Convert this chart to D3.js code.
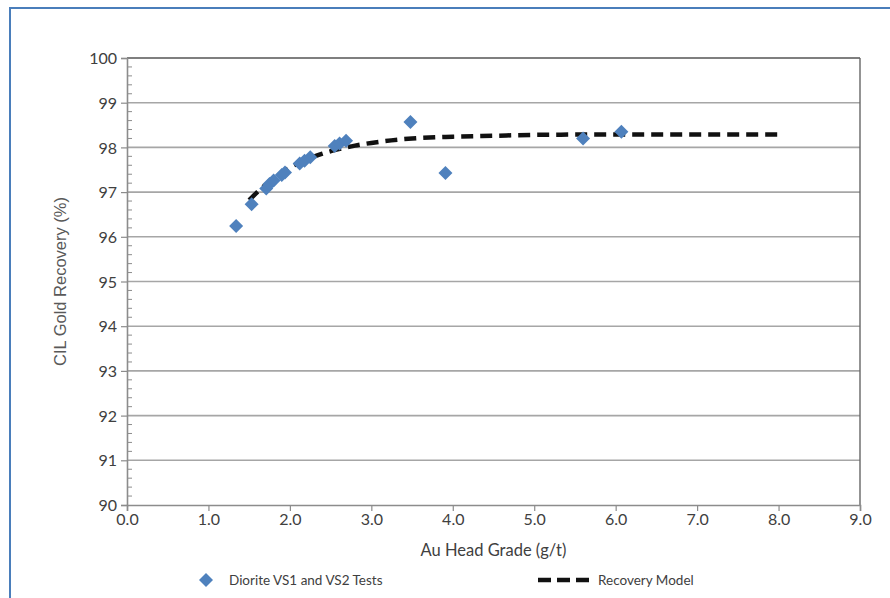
<!DOCTYPE html>
<html><head><meta charset="utf-8">
<script src="https://cdn.jsdelivr.net/npm/d3@7"></script>
<style>body{margin:0;background:#fff}svg{display:block}</style>
</head><body>
<script>
// Data
const testX = [1.34,1.53,1.71,1.75,1.80,1.90,1.94,2.12,2.18,2.25,2.55,2.61,2.69,3.48,3.91,5.60,6.07];
const testY = [96.24,96.73,97.08,97.18,97.26,97.38,97.44,97.64,97.70,97.78,98.03,98.09,98.15,98.57,97.43,98.20,98.35];
const modelX = [1.5,1.6,1.8,2.0,2.2,2.4,2.6,2.8,3.0,3.5,4.0,4.5,5.0,6.0,7.0,8.0];
const modelY = [96.82,97.00,97.30,97.55,97.72,97.86,97.96,98.04,98.10,98.20,98.24,98.26,98.28,98.29,98.29,98.29];
const xTicks = [0,1,2,3,4,5,6,7,8,9];
const yTicks = [90,91,92,93,94,95,96,97,98,99,100];
const seriesNames = ["Diorite VS1 and VS2 Tests","Recovery Model"];

const W = 890, H = 598;
const m = {l:127, r:860, t:58, b:505};
const svg = d3.select("body").append("svg").attr("width",W).attr("height",H);

// outer border
svg.append("rect").attr("x",10).attr("y",8).attr("width",W).attr("height",H)
  .attr("fill","none").attr("stroke","#4a7ebb").attr("stroke-width",2);

const x = d3.scaleLinear().domain([0,9]).range([m.l,m.r]);
const y = d3.scaleLinear().domain([90,100]).range([m.b,m.t]);

// gridlines
svg.append("g").selectAll("line").data(yTicks.slice(1,-1)).join("line")
  .attr("x1",m.l).attr("x2",m.r).attr("y1",d=>y(d)).attr("y2",d=>y(d))
  .attr("stroke","#a6a6a6").attr("stroke-width",1.6);
// top and right frame
svg.append("line").attr("x1",m.l).attr("x2",m.r).attr("y1",m.t).attr("y2",m.t)
  .attr("stroke","#555").attr("stroke-width",1.6);
svg.append("line").attr("x1",m.r).attr("x2",m.r).attr("y1",m.t).attr("y2",m.b)
  .attr("stroke","#666").attr("stroke-width",1.4);

// y minor ticks (inside)
const minor = d3.range(90,100.001,0.2).filter(v=>Math.abs(v-Math.round(v))>0.01);
svg.append("g").selectAll("line").data(minor).join("line")
  .attr("x1",m.l).attr("x2",m.l+5).attr("y1",d=>y(d)).attr("y2",d=>y(d))
  .attr("stroke","#8c8c8c").attr("stroke-width",1);

// axes
const fontTicks = "'Lato','Liberation Sans',sans-serif";
const yAxis = svg.append("g").attr("transform",`translate(${m.l},0)`)
  .call(d3.axisLeft(y).tickValues(yTicks).tickFormat(d3.format("d")).tickSize(6).tickPadding(4));
const xAxis = svg.append("g").attr("transform",`translate(0,${m.b})`)
  .call(d3.axisBottom(x).tickValues(xTicks).tickFormat(d3.format(".1f")).tickSize(6).tickPadding(3));
[yAxis,xAxis].forEach(a=>{
  a.select(".domain").attr("stroke","#8c8c8c").attr("stroke-width",1.6);
  a.selectAll(".tick line").attr("stroke","#8c8c8c").attr("stroke-width",1.2);
  a.selectAll(".tick text").attr("fill","#404040").attr("font-size",16).attr("font-family",fontTicks);
});
yAxis.selectAll(".tick text").attr("dy","0.35em");

// axis titles
svg.append("text").attr("transform",`translate(66,${(m.t+m.b)/2}) rotate(-90)`)
  .attr("text-anchor","middle").attr("font-family","'Liberation Sans',Arial,sans-serif")
  .attr("font-size",16.5).attr("fill","#595959").text("CIL Gold Recovery (%)");
svg.append("text").attr("x",(m.l+m.r)/2).attr("y",556)
  .attr("text-anchor","middle").attr("font-family",fontTicks)
  .attr("font-size",16.5).attr("fill","#404040").text("Au Head Grade (g/t)");

// model line
const line = d3.line().x((d,i)=>x(modelX[i])).y((d,i)=>y(modelY[i])).curve(d3.curveMonotoneX);
svg.append("path").datum(modelX).attr("d",line).attr("fill","none")
  .attr("stroke","#111").attr("stroke-width",4.5).attr("stroke-dasharray","12,7");

// test points
const diamond = d3.symbol().type(d3.symbolSquare).size(98);
svg.append("g").selectAll("path").data(testX).join("path")
  .attr("d",diamond())
  .attr("transform",(d,i)=>`translate(${x(d)},${y(testY[i])}) rotate(45)`)
  .attr("fill","#4f81bd");

// legend
svg.append("path").attr("d",diamond()).attr("transform","translate(206,580) rotate(45)").attr("fill","#4f81bd");
svg.append("text").attr("x",229).attr("y",585).attr("font-family",fontTicks).attr("font-size",13.5)
  .attr("fill","#404040").text(seriesNames[0]);
svg.append("line").attr("x1",538).attr("x2",590).attr("y1",580).attr("y2",580)
  .attr("stroke","#111").attr("stroke-width",4.5).attr("stroke-dasharray","13,6");
svg.append("text").attr("x",598).attr("y",585).attr("font-family",fontTicks).attr("font-size",13.5)
  .attr("fill","#404040").text(seriesNames[1]);
</script>
</body></html>
